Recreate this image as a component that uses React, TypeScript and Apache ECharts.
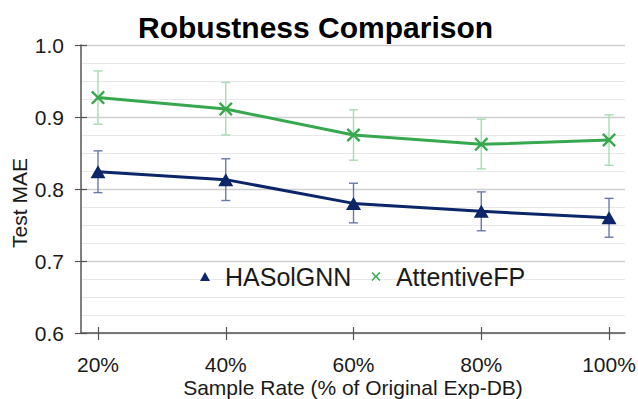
import React, { useEffect, useRef } from "react";
import * as echarts from "echarts";

const sampleRates = [20, 40, 60, 80, 100];
const tickLabels = ["20%", "40%", "60%", "80%", "100%"];

const hasolMean = [0.824, 0.813, 0.78, 0.769, 0.76];
const hasolLow = [0.795, 0.784, 0.753, 0.742, 0.733];
const hasolHigh = [0.853, 0.842, 0.808, 0.796, 0.787];

const afpMean = [0.927, 0.911, 0.875, 0.862, 0.868];
const afpLow = [0.89, 0.875, 0.84, 0.828, 0.833];
const afpHigh = [0.964, 0.948, 0.91, 0.897, 0.903];

const NAVY = "#0c2669";
const GREEN = "#37a84f";
const NAVY_ERR = "#6a7aa8";
const GREEN_ERR = "#a6dbb0";
const FONT = "'Liberation Sans', Arial, sans-serif";

const X_PATH =
  "path://M0,1.2 L1.2,0 L5,3.8 L8.8,0 L10,1.2 L6.2,5 L10,8.8 L8.8,10 L5,6.2 L1.2,10 L0,8.8 L3.8,5 Z";
const TRI_PATH = "path://M5,0 L10,9 L0,9 Z";

function errorSeries(name: string, low: number[], high: number[], color: string) {
  return {
    type: "custom",
    name: name + "-err",
    z: 1,
    silent: true,
    data: sampleRates.map((x, i) => [x, low[i], high[i]]),
    encode: { x: 0, y: [1, 2] },
    renderItem: (params: any, api: any) => {
      const x = api.value(0);
      const pLo = api.coord([x, api.value(1)]);
      const pHi = api.coord([x, api.value(2)]);
      const w = 4.5;
      const style = { stroke: color, lineWidth: 1.4 };
      return {
        type: "group",
        children: [
          { type: "line", shape: { x1: pHi[0], y1: pHi[1], x2: pLo[0], y2: pLo[1] }, style },
          { type: "line", shape: { x1: pHi[0] - w, y1: pHi[1], x2: pHi[0] + w, y2: pHi[1] }, style },
          { type: "line", shape: { x1: pLo[0] - w, y1: pLo[1], x2: pLo[0] + w, y2: pLo[1] }, style },
        ],
      };
    },
  };
}

export default function App() {
  const ref = useRef<HTMLDivElement>(null);
  useEffect(() => {
    if (!ref.current) return;
    const chart = echarts.init(ref.current, null, { renderer: "svg" });
    const xMin = 17.34;
    const xMax = 102.5;
    const labelStyle = { color: "#1a1a1a", fontSize: 21, fontFamily: FONT };
    chart.setOption({
      animation: false,
      backgroundColor: "#ffffff",
      title: {
        text: "Robustness Comparison",
        left: 133,
        top: 7,
        textStyle: { fontSize: 30, fontWeight: "bold", color: "#000", fontFamily: FONT },
      },
      grid: { left: 81, right: 13, top: 45, bottom: 66, outerBoundsMode: "none", containLabel: false },
      legend: {
        left: 200,
        top: 264,
        itemWidth: 30,
        itemHeight: 9,
        itemGap: 20,
        padding: 0,
        textStyle: { fontSize: 25, color: "#1a1a1a", fontFamily: FONT },
        data: [
          { name: "HASolGNN", icon: TRI_PATH, itemStyle: { color: NAVY } },
          { name: "AttentiveFP", icon: X_PATH, itemStyle: { color: GREEN } },
        ],
      },
      xAxis: [
        {
          type: "value",
          min: xMin,
          max: xMax,
          name: "Sample Rate (% of Original Exp-DB)",
          nameLocation: "middle",
          nameGap: 44,
          nameMoveOverlap: false,
          nameTextStyle: { fontSize: 21, color: "#1a1a1a", fontFamily: FONT },
          axisLine: { show: true, lineStyle: { color: "#555", width: 1.5 } },
          axisTick: { show: true, length: 7, customValues: sampleRates, lineStyle: { color: "#555", width: 1.2 } },
          axisLabel: {
            ...labelStyle,
            margin: 21,
            lineHeight: 21,
            customValues: sampleRates,
            formatter: (v: number) => tickLabels[sampleRates.indexOf(Math.round(v))] ?? "",
          },
          splitLine: { show: false },
        },
        {
          type: "value",
          min: xMin,
          max: xMax,
          position: "bottom",
          axisLine: { show: false },
          axisTick: { show: true, inside: true, length: 6, customValues: sampleRates, lineStyle: { color: "#555", width: 1.2 } },
          axisLabel: { show: false },
          splitLine: { show: false },
        },
      ],
      yAxis: [
        {
          type: "value",
          min: 0.6,
          max: 1.0,
          interval: 0.1,
          name: "Test MAE",
          nameLocation: "middle",
          nameGap: 51,
          nameMoveOverlap: false,
          nameTextStyle: { fontSize: 21, color: "#1a1a1a", fontFamily: FONT, padding: [0, 28, 0, 0] },
          axisLine: { show: true, lineStyle: { color: "#555", width: 1.5 } },
          axisTick: { show: true, length: 6, lineStyle: { color: "#555", width: 1.2 } },
          axisLabel: { ...labelStyle, margin: 17, formatter: (v: number) => v.toFixed(1) },
          splitLine: { show: true, lineStyle: { color: "#cfcfcf", width: 1.3 } },
          minorTick: { show: false, splitNumber: 4 },
          minorSplitLine: { show: true, lineStyle: { color: "#e8e8e8", width: 1.2 } },
        },
        {
          type: "value",
          min: 0.6,
          max: 1.0,
          interval: 0.1,
          position: "left",
          axisLine: { show: false },
          axisTick: { show: true, inside: true, length: 6, lineStyle: { color: "#555", width: 1.2 } },
          axisLabel: { show: false },
          splitLine: { show: false },
        },
      ],
      series: [
        errorSeries("HASolGNN", hasolLow, hasolHigh, NAVY_ERR),
        errorSeries("AttentiveFP", afpLow, afpHigh, GREEN_ERR),
        {
          name: "HASolGNN",
          type: "line",
          z: 3,
          data: sampleRates.map((x, i) => [x, hasolMean[i]]),
          symbol: "triangle",
          symbolSize: [15, 13],
          lineStyle: { color: NAVY, width: 3 },
          itemStyle: { color: NAVY },
        },
        {
          name: "AttentiveFP",
          type: "line",
          z: 3,
          data: sampleRates.map((x, i) => [x, afpMean[i]]),
          symbol: X_PATH,
          symbolSize: 14,
          lineStyle: { color: GREEN, width: 3 },
          itemStyle: { color: GREEN },
        },
      ],
    });
    return () => chart.dispose();
  }, []);
  return (
    <div
      ref={ref}
      style={{ position: "fixed", left: 0, top: 0, width: 638, height: 399, background: "#fff" }}
    />
  );
}
